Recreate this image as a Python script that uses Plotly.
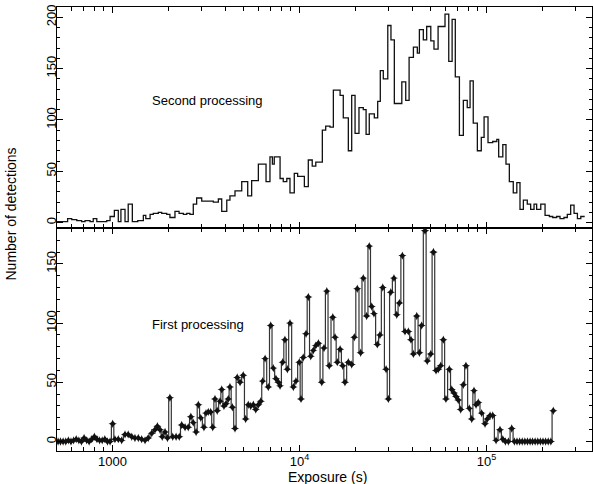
import math
import plotly.graph_objects as go

# ---------------- data ----------------
# Second processing: log10(exposure [s]) bin edges and counts per bin
second_log_edges = [
    2.703, 2.760, 2.782, 2.809, 2.835, 2.853, 2.880, 2.897, 2.916, 2.969,
    2.987, 3.010, 3.031, 3.045, 3.067, 3.084, 3.106, 3.135, 3.165, 3.178,
    3.201, 3.218, 3.245, 3.263, 3.290, 3.307, 3.334, 3.356, 3.379, 3.397,
    3.414, 3.432, 3.450, 3.477, 3.512, 3.539, 3.566, 3.584, 3.611, 3.628,
    3.655, 3.691, 3.723, 3.744, 3.780, 3.821, 3.842, 3.855, 3.865, 3.896,
    3.913, 3.932, 3.949, 3.972, 3.990, 4.026, 4.047, 4.068, 4.087, 4.122,
    4.140, 4.163, 4.181, 4.217, 4.234, 4.261, 4.279, 4.297, 4.318, 4.341,
    4.356, 4.373, 4.400, 4.418, 4.432, 4.448, 4.472, 4.489, 4.507, 4.547,
    4.568, 4.586, 4.609, 4.630, 4.641, 4.662, 4.680, 4.702, 4.719, 4.741,
    4.778, 4.798, 4.816, 4.833, 4.855, 4.876, 4.897, 4.912, 4.929, 4.951,
    4.972, 4.987, 5.008, 5.033, 5.055, 5.065, 5.087, 5.104, 5.122, 5.143,
    5.162, 5.179, 5.197, 5.218, 5.236, 5.254, 5.268, 5.290, 5.313, 5.336,
    5.354, 5.375, 5.393, 5.414, 5.432, 5.450, 5.468, 5.486, 5.504, 5.525,
]
second_counts = [
    1, 4, 3, 2, 1, 2, 1, 4, 1, 2,
    6, 12, 1, 13, 1, 18, 1, 2, 7, 4,
    8, 9, 10, 9, 8, 5, 11, 9, 8, 9,
    8, 18, 24, 21, 21, 20, 23, 11, 22, 26,
    31, 40, 26, 41, 57, 40, 64, 57, 64, 43,
    40, 43, 29, 48, 45, 35, 61, 55, 59, 90,
    94, 93, 129, 124, 102, 70, 124, 87, 112, 110,
    86, 106, 102, 118, 148, 140, 192, 178, 116, 137,
    119, 161, 171, 165, 188, 178, 191, 177, 169, 191,
    203, 157, 198, 142, 85, 119, 112, 138, 97, 70,
    83, 103, 78, 79, 81, 64, 76, 57, 40, 29,
    39, 13, 22, 18, 13, 18, 13, 18, 7, 6,
    5, 6, 4, 5, 8, 17, 9, 4, 6,
]

# First processing: log10(exposure [s]) bin centres and counts
first_log_centers = [
    2.709, 2.722, 2.736, 2.750, 2.764, 2.778, 2.792, 2.806, 2.820, 2.834,
    2.848, 2.862, 2.875, 2.889, 2.903, 2.917, 2.931, 2.945, 2.959, 2.973,
    2.987, 3.001, 3.013, 3.031, 3.049, 3.067, 3.084, 3.103, 3.120, 3.138,
    3.156, 3.174, 3.191, 3.210, 3.227, 3.240, 3.254, 3.266, 3.281, 3.294,
    3.307, 3.322, 3.340, 3.357, 3.370, 3.388, 3.405, 3.419, 3.432, 3.447,
    3.459, 3.472, 3.489, 3.500, 3.512, 3.525, 3.536, 3.548, 3.560, 3.575,
    3.584, 3.596, 3.607, 3.619, 3.628, 3.641, 3.655, 3.667, 3.682, 3.699,
    3.712, 3.726, 3.739, 3.753, 3.766, 3.780, 3.793, 3.803, 3.816, 3.833,
    3.846, 3.860, 3.874, 3.887, 3.896, 3.910, 3.922, 3.935, 3.949, 3.967,
    3.981, 3.999, 4.008, 4.020, 4.035, 4.047, 4.060, 4.074, 4.087, 4.101,
    4.119, 4.131, 4.146, 4.159, 4.178, 4.190, 4.202, 4.217, 4.231, 4.243,
    4.261, 4.279, 4.293, 4.309, 4.327, 4.341, 4.359, 4.373, 4.386, 4.398,
    4.416, 4.430, 4.445, 4.463, 4.475, 4.488, 4.505, 4.520, 4.534, 4.550,
    4.564, 4.582, 4.596, 4.609, 4.627, 4.641, 4.653, 4.671, 4.683, 4.702,
    4.716, 4.730, 4.742, 4.755, 4.769, 4.783, 4.801, 4.814, 4.826, 4.837,
    4.849, 4.862, 4.876, 4.890, 4.908, 4.921, 4.933, 4.944, 4.956, 4.974,
    4.992, 5.004, 5.019, 5.033, 5.051, 5.072, 5.087, 5.101, 5.117, 5.135,
    5.149, 5.163, 5.177, 5.191, 5.205, 5.219, 5.233, 5.246, 5.260, 5.274,
    5.288, 5.302, 5.316, 5.330, 5.344, 5.357,
]
first_counts = [
    0, 0, 0, 0, 1, 0, 1, 2, 1, 0,
    3, 1, 0, 2, 4, 2, 1, 1, 2, 0,
    0, 15, 2, 2, 1, 6, 6, 4, 3, 3,
    2, 1, 3, 7, 10, 13, 10, 4, 8, 3,
    37, 4, 4, 4, 14, 12, 12, 21, 16, 8,
    31, 20, 12, 24, 25, 25, 12, 36, 26, 34,
    44, 30, 32, 36, 46, 29, 11, 54, 50, 56,
    19, 31, 30, 31, 27, 31, 34, 51, 70, 46,
    98, 62, 53, 50, 47, 67, 86, 61, 100, 46,
    51, 67, 36, 71, 91, 122, 72, 77, 81, 83,
    50, 79, 127, 64, 105, 88, 67, 78, 64, 50,
    67, 65, 88, 129, 75, 138, 106, 165, 114, 108,
    82, 90, 130, 61, 36, 126, 138, 107, 117, 157,
    93, 93, 86, 74, 106, 75, 98, 178, 68, 74,
    160, 60, 61, 64, 86, 36, 61, 44, 41, 38,
    35, 27, 48, 64, 28, 19, 43, 31, 33, 24,
    15, 19, 22, 22, 1, 10, 2, 0, 0, 11,
    0, 0, 0, 0, 0, 0, 0, 0, 0, 0,
    0, 0, 0, 0, 0, 26,
]

x_tick_values = [1000, 10000, 100000]
x_tick_labels = ["1000", "10<sup>4</sup>", "10<sup>5</sup>"]
panel_labels = ["Second processing", "First processing"]
x_title = "Exposure (s)"
y_title = "Number of detections"

# ---------------- figure ----------------
FONT = "Liberation Sans, Arial, sans-serif"
n = min(len(second_counts), len(second_log_edges) - 1)
second_x = [10 ** v for v in second_log_edges[: n + 1]]
second_y = list(second_counts[:n]) + [second_counts[n - 1]]

m = min(len(first_log_centers), len(first_counts))
first_x = [10 ** v for v in first_log_centers[:m]]
first_y = first_counts[:m]

xr = [2.7032, 5.564]
split = 0.5023
minor_vals = [k * 10 ** d for d in (2, 3, 4, 5) for k in range(2, 10)
              if xr[0] < math.log10(k * 10 ** d) < xr[1]]

fig = go.Figure()
fig.add_trace(go.Scatter(
    x=second_x, y=second_y, mode="lines",
    line=dict(shape="hv", color="#111111", width=1.3),
    xaxis="x", yaxis="y", showlegend=False, hoverinfo="skip"))
fig.add_trace(go.Scatter(
    x=first_x, y=first_y, mode="lines+markers",
    line=dict(shape="hvh", color="#333333", width=1.2),
    marker=dict(symbol="star-diamond", size=6, color="#111111"),
    xaxis="x2", yaxis="y2", showlegend=False, hoverinfo="skip"))
# invisible helpers so the minor-tick overlay axes get drawn
fig.add_trace(go.Scatter(x=[1000], y=[None], xaxis="x3", yaxis="y",
                         mode="markers", showlegend=False, hoverinfo="skip"))
fig.add_trace(go.Scatter(x=[1000], y=[None], xaxis="x4", yaxis="y2",
                         mode="markers", showlegend=False, hoverinfo="skip"))

axis_common = dict(
    showline=True, linecolor="black", linewidth=1.3, mirror="ticks",
    ticks="inside", ticklen=6, tickwidth=1, tickcolor="black",
    showgrid=False, zeroline=False,
    tickfont=dict(family=FONT, size=13, color="black"),
)
xaxis_common = dict(
    axis_common, type="log", range=xr, tickmode="array",
    tickvals=x_tick_values, ticktext=x_tick_labels,
)
xminor_common = dict(
    axis_common, type="log", range=xr, tickmode="array",
    tickvals=minor_vals, ticklen=4, showticklabels=False,
)
yaxis_common = dict(
    axis_common, tickmode="linear", tick0=0, dtick=50, tickangle=-90,
    ticklabelstandoff=-5,
    minor=dict(dtick=10, tick0=0, ticks="inside", ticklen=3, tickwidth=1,
               tickcolor="black", showgrid=False),
)

fig.update_layout(
    width=594, height=484,
    margin=dict(l=57, r=2, t=7, b=33),
    paper_bgcolor="white", plot_bgcolor="white",
    font=dict(family=FONT, size=13, color="black"),
    xaxis=dict(xaxis_common, domain=[0, 1], anchor="y", showticklabels=False),
    yaxis=dict(yaxis_common, domain=[split, 1], anchor="x", range=[-5.2, 210]),
    xaxis2=dict(xaxis_common, domain=[0, 1], anchor="y2", ticklabelstandoff=-2),
    yaxis2=dict(yaxis_common, domain=[0, split], anchor="x2", range=[-8, 180.3]),
    xaxis3=dict(xminor_common, overlaying="x", anchor="y", domain=[0, 1]),
    xaxis4=dict(xminor_common, overlaying="x2", anchor="y2", domain=[0, 1]),
    annotations=[
        dict(text=panel_labels[0], xref="x domain", yref="y domain",
             x=0.174, y=0.579, xanchor="left", yanchor="middle",
             showarrow=False, font=dict(family=FONT, size=13)),
        dict(text=panel_labels[1], xref="x2 domain", yref="y2 domain",
             x=0.174, y=0.565, xanchor="left", yanchor="middle",
             showarrow=False, font=dict(family=FONT, size=13)),
        dict(text=x_title, xref="paper", yref="paper",
             x=0.505, y=(451 - 476.5) / 444, xanchor="center", yanchor="middle",
             showarrow=False, font=dict(family=FONT, size=14)),
        dict(text=y_title, xref="paper", yref="paper", textangle=-90,
             x=(11 - 57) / 535, y=(451 - 214.5) / 444,
             xanchor="center", yanchor="middle",
             showarrow=False, font=dict(family=FONT, size=14)),
    ],
)

fig.write_html("out.html")
